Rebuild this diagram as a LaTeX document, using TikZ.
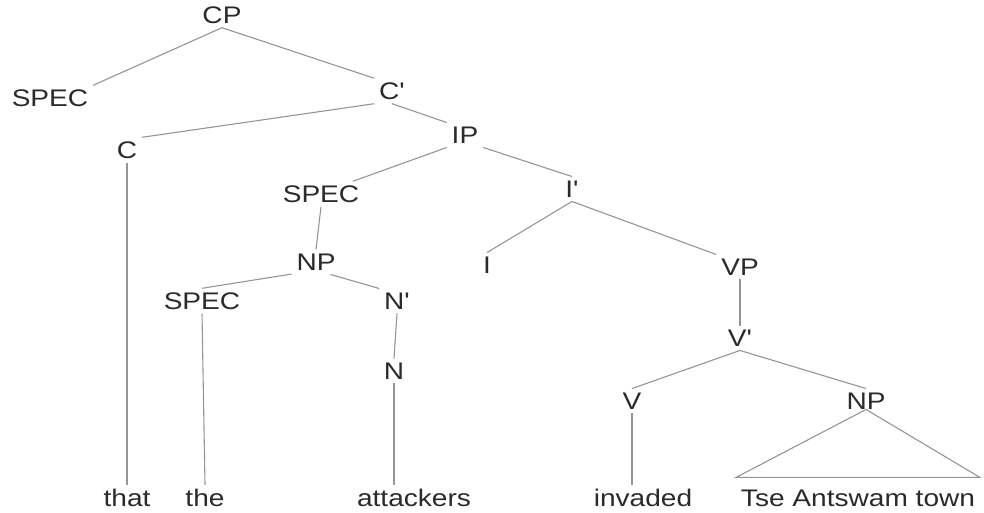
\documentclass[tikz,border=0pt]{standalone}
\usepackage{xcolor}
\usepackage{fontspec}
\setmainfont{Liberation Sans}
\usepackage{tikz}

\definecolor{branch}{HTML}{959595}
\definecolor{label}{HTML}{2A2A2A}

% bar levels carry a straight prime
\newcommand{\bbar}{\textquotesingle}

\tikzset{
    cat/.style={inner sep=4pt, text=label, xscale=1.17,
        font=\fontsize{24}{25}\selectfont},
    edge/.style={draw=branch, line width=1.1pt}
}

\begin{document}
\begin{tikzpicture}[x=1pt, y=-1pt]
    \useasboundingbox (0, 0) rectangle (984, 513);

    \node[cat] at (222, 15) (CP) {CP};
    \node[cat] at (50, 98) (SPECc) {SPEC};
    \node[cat] at (392, 91) (Cbar) {C\bbar};
    \node[cat] at (127, 150) (C) {C};
    \node[cat] at (465, 135) (IP) {IP};
    \node[cat] at (321, 194) (SPECi) {SPEC};
    \node[cat] at (572, 189) (Ibar) {I\bbar};
    \node[cat] at (316, 262) (NPs) {NP};
    \node[cat] at (487, 265) (I) {I};
    \node[cat] at (740, 267) (VP) {VP};
    \node[cat] at (202, 301) (SPECn) {SPEC};
    \node[cat] at (397, 301) (Nbar) {N\bbar};
    \node[cat] at (394, 371) (N) {N};
    \node[cat] at (740, 338) (Vbar) {V\bbar};
    \node[cat] at (632, 401) (V) {V};
    \node[cat] at (866, 401) (NPo) {NP};

    \node[cat] at (127, 498) (that) {that};
    \node[cat] at (205, 498) (the) {the};
    \node[cat] at (414, 498) (attackers) {attackers};
    \node[cat] at (643, 498) (invaded) {invaded};
    \node[cat] at (858, 498) (town) {Tse Antswam town};

    \draw[edge] (CP.south) -- (SPECc.north east);
    \draw[edge] (CP.south) -- (Cbar.north west);
    \draw[edge] (Cbar.south west) -- (C.north east);
    \draw[edge] (Cbar.south) -- (IP.north west);
    \draw[edge] (C.south) -- (that.north);
    \draw[edge] (IP.south west) -- (SPECi.25);
    \draw[edge] (IP.south east) -- (Ibar.north);
    \draw[edge] (SPECi.south) -- (NPs.north);
    \draw[edge] (NPs.-150) -- (SPECn.north);
    \draw[edge] (NPs.-45) -- (Nbar.north west);
    \draw[edge] (SPECn.south) -- (the.north);
    \draw[edge] (Nbar.south) -- (N.north);
    \draw[edge] (N.south) -- (N.south |- attackers.north);
    \draw[edge] (Ibar.south) -- (I.north);
    \draw[edge] (Ibar.south) -- (VP.north west);
    \draw[edge] (VP.south) -- (Vbar.north);
    \draw[edge] (Vbar.south) -- (V.north);
    \draw[edge] (Vbar.south) -- (NPo.north);
    \draw[edge] (V.south) -- (V.south |- invaded.north);

    % roof over the object NP
    \draw[edge] ([yshift=4pt]NPo.south) -- ([yshift=8pt]town.north west)
        -- ([yshift=8pt]town.north east) -- cycle;
\end{tikzpicture}
\end{document}
